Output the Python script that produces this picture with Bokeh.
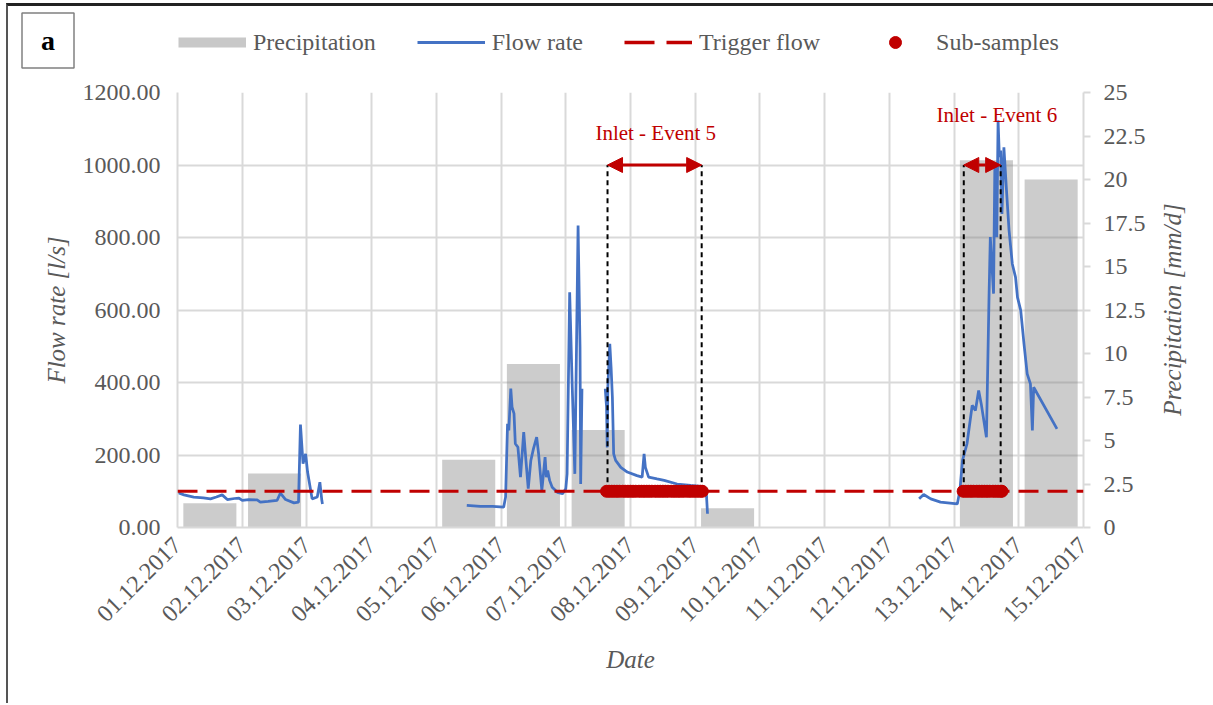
import math

from bokeh.embed import file_html
from bokeh.layouts import column, row
from bokeh.models import (Arrow, FixedTicker, Label, Legend, LegendItem, LinearAxis,
                          NormalHead, NumeralTickFormatter, Range1d, Span)
from bokeh.plotting import figure
from bokeh.resources import INLINE

NAN = float("nan")

# ---------------------------------------------------------------- data
date_labels = ["01.12.2017", "02.12.2017", "03.12.2017", "04.12.2017", "05.12.2017",
               "06.12.2017", "07.12.2017", "08.12.2017", "09.12.2017", "10.12.2017",
               "11.12.2017", "12.12.2017", "13.12.2017", "14.12.2017", "15.12.2017"]

# daily precipitation [mm/d]; day index 0 = 01.12.2017
precip_day = [0, 1, 2, 3, 4, 5, 6, 7, 8, 9, 10, 11, 12, 13]
precip_mm = [1.4, 3.1, 0.0, 0.0, 3.9, 9.4, 5.6, 0.0, 1.1, 0.0, 0.0, 0.0, 21.1, 20.0]

# inlet flow rate; time in days since 01.12.2017 00:00, NaN marks logger gaps
flow_time = [
    0.00, 0.02, 0.10, 0.25, 0.40, 0.51, 0.60, 0.69, 0.77, 0.88, 0.95, 1.00, 1.10, 1.23,
    1.28, 1.40, 1.54, 1.59, 1.67, 1.80, 1.87, 1.90, 1.94, 1.98, 2.01, 2.08, 2.16, 2.20,
    2.23, 2.24,
    3.00,
    4.47, 4.68, 4.87, 5.04, 5.07, 5.10, 5.12, 5.15, 5.17, 5.20, 5.22, 5.26, 5.30, 5.35,
    5.38, 5.42, 5.46, 5.50, 5.55, 5.58, 5.63, 5.68, 5.70, 5.72, 5.75, 5.79, 5.87, 5.95,
    6.00, 6.02, 6.06, 6.10, 6.14, 6.19, 6.22, 6.23, 6.25,
    6.40,
    6.61, 6.63, 6.64, 6.65, 6.68, 6.70, 6.72, 6.74, 6.77, 6.85, 6.95, 7.10, 7.18, 7.21,
    7.23, 7.28, 7.41, 7.52, 7.72, 7.93, 8.13, 8.17, 8.19,
    10.00,
    11.46, 11.53, 11.64, 11.79, 12.05, 12.09, 12.13, 12.20, 12.28, 12.33, 12.38, 12.42,
    12.50, 12.54, 12.56, 12.61, 12.63, 12.66, 12.68, 12.70, 12.72, 12.74, 12.77, 12.81,
    12.85, 12.90, 12.95, 12.98, 13.03, 13.08, 13.13, 13.18, 13.21, 13.23, 13.59,
]
flow_rate = [
    97, 95, 90, 84, 82, 79, 84, 90, 77, 80, 81, 75, 77, 76,
    70, 72, 75, 95, 77, 68, 70, 284, 176, 203, 153, 79, 84, 125,
    75, 65,
    NAN,
    61, 58, 58, 56, 84, 286, 268, 383, 332, 314, 231, 222, 139, 263,
    194, 107, 185, 217, 249, 203, 102, 194, 139, 157, 130, 111, 97, 93,
    107, 148, 649, 387, 148, 833, 497, 120, 383,
    NAN,
    383, 332, 221, 387, 507, 442, 360, 203, 185, 166, 153, 143, 139, 203,
    166, 139, 134, 130, 120, 116, 113, 102, 38,
    NAN,
    79, 91, 79, 70, 65, 102, 185, 231, 337, 323, 378, 341,
    249, 635, 801, 645, 1003, 801, 1123, 1022, 1040, 865, 1049, 930,
    819, 727, 690, 635, 599, 507, 424, 396, 268, 387, 272,
]

TRIGGER_FLOW = 100.0  # l/s

# sub-sample times [days since 01.12.2017]
sub_time_event5 = [6.63, 6.67, 6.71, 6.75, 6.79, 6.83, 6.88, 6.92, 6.96, 7.00, 7.04, 7.08,
                   7.13, 7.17, 7.21, 7.25, 7.29, 7.33, 7.38, 7.42, 7.46, 7.50, 7.54, 7.58,
                   7.63, 7.67, 7.71, 7.75, 7.79, 7.83, 7.88, 7.92, 7.96, 8.00, 8.04, 8.08,
                   8.11]
sub_time_event6 = [12.14, 12.18, 12.22, 12.26, 12.30, 12.35, 12.39, 12.43, 12.47, 12.51,
                   12.55, 12.60, 12.64, 12.68, 12.72, 12.74]

# sampled inlet events: name, start, end [days]
event_names = ["Inlet - Event 5", "Inlet - Event 6"]
event_start = [6.645, 12.15]
event_end = [8.10, 12.72]

flow_ticks = [0, 200, 400, 600, 800, 1000, 1200]
precip_ticks = [0, 2.5, 5, 7.5, 10, 12.5, 15, 17.5, 20, 22.5, 25]

# ---------------------------------------------------------------- style
FONT = "Liberation Serif"
TXT = "#595959"
GRID = "#d9d9d9"
RED = "#c00000"
BLUE = "#4472c4"
BAR_KEY = "#c8c8c8"

W = 1205
HEAD_H = 66
MAIN_H = 631
SIDE_W = 60
MAIN_W = W - SIDE_W

sub_times = sub_time_event5 + sub_time_event6
sub_flow = [TRIGGER_FLOW] * len(sub_times)


def no_frame_align(fig):
    if "frame_align" in fig.properties():
        fig.frame_align = False


# ---------------------------------------------------------------- main chart
p = figure(width=MAIN_W, height=MAIN_H, output_backend="svg", toolbar_location=None,
           x_range=Range1d(0, 14), y_range=Range1d(0, 1200),
           min_border_left=169, min_border_right=MAIN_W - 1075, min_border_top=20,
           min_border_bottom=176)
p.outline_line_color = None
p.extra_y_ranges = {"precip": Range1d(0, 25)}
no_frame_align(p)

x_ticker = FixedTicker(ticks=list(range(len(date_labels))))
y_ticker = FixedTicker(ticks=flow_ticks)

for g, t in ((p.xgrid[0], x_ticker), (p.ygrid[0], y_ticker)):
    g.ticker = t
    g.grid_line_color = GRID
    g.grid_line_width = 2

xax = p.xaxis[0]
xax.ticker = x_ticker
xax.major_label_overrides = {i: lab for i, lab in enumerate(date_labels)}
xax.major_label_orientation = math.pi / 4
xax.axis_label = "Date"

yax = p.yaxis[0]
yax.ticker = y_ticker
yax.formatter = NumeralTickFormatter(format="0.00")
yax.axis_label = "Flow rate [l/s]"

rax = LinearAxis(y_range_name="precip", ticker=FixedTicker(ticks=precip_ticks),
                 major_label_overrides={t: f"{t:g}" for t in precip_ticks})
p.add_layout(rax, "right")

for ax in (xax, yax, rax):
    ax.axis_line_color = GRID
    ax.axis_line_width = 2
    ax.minor_tick_line_color = None
    ax.major_tick_in = 0
    ax.major_tick_out = 0
    ax.major_label_text_font = FONT
    ax.major_label_text_font_size = "24px"
    ax.major_label_text_color = TXT
    ax.axis_label_text_font = FONT
    ax.axis_label_text_font_size = "25px"
    ax.axis_label_text_font_style = "italic"
    ax.axis_label_text_color = TXT

xax.major_label_standoff = 14
xax.axis_label_standoff = 15
yax.major_label_standoff = 17
yax.axis_label_standoff = 10
rax.major_tick_out = 7
rax.major_tick_line_color = GRID
rax.major_tick_line_width = 2
rax.major_label_standoff = 13

bar_x = [d + 0.5 for d in precip_day]
p.vbar(x=bar_x, top=precip_mm, width=0.82, y_range_name="precip",
       fill_color="#7f7f7f", fill_alpha=0.4, line_color=None)

p.line(flow_time, flow_rate, line_color=BLUE, line_width=2.75)

p.add_layout(Span(location=TRIGGER_FLOW, dimension="width", line_color=RED,
                  line_width=3, line_dash="20 9"))

# event limits: dashed verticals, double arrows and captions
p.segment(x0=event_start + event_end, y0=[TRIGGER_FLOW] * 4,
          x1=event_start + event_end, y1=[1000] * 4,
          line_color="black", line_width=2, line_dash="5 4")
for s, e in zip(event_start, event_end):
    p.add_layout(Arrow(x_start=s, y_start=1000, x_end=e, y_end=1000,
                       line_color=RED, line_width=3,
                       start=NormalHead(size=15, fill_color=RED, line_color=RED),
                       end=NormalHead(size=15, fill_color=RED, line_color=RED)))

caption_xy = [(7.39, 1087), (12.66, 1137)]
for name, (cx, cy) in zip(event_names, caption_xy):
    p.add_layout(Label(x=cx, y=cy, text=name, text_font=FONT, text_font_size="21px",
                       text_color=RED, text_align="center", text_baseline="middle"))

p.scatter(sub_times, sub_flow, size=12, fill_color=RED, line_color=RED)

# ---------------------------------------------------------------- header: key + panel letter
head = figure(width=W, height=HEAD_H, output_backend="svg", toolbar_location=None,
              x_range=Range1d(0, 14), y_range=Range1d(0, 1200),
              x_axis_location=None, y_axis_location=None, min_border=0)
head.outline_line_color = None
head.grid.visible = False
no_frame_align(head)

# hidden copies of the series, used only as legend keys
k_precip = head.line(bar_x, precip_mm, line_color=BAR_KEY, line_width=10,
                     line_cap="butt", visible=False)
k_flow = head.line(flow_time, flow_rate, line_color=BLUE, line_width=3, visible=False)
k_trigger = head.line(sub_times, sub_flow, line_color=RED, line_width=3.5,
                      line_dash="30 12", visible=False)
k_sub = head.scatter(sub_times, sub_flow, fill_color=RED, line_color=RED, visible=False)

legend = Legend(items=[LegendItem(label="Precipitation", renderers=[k_precip]),
                       LegendItem(label="Flow rate", renderers=[k_flow]),
                       LegendItem(label="Trigger flow", renderers=[k_trigger]),
                       LegendItem(label="Sub-samples", renderers=[k_sub])],
                orientation="horizontal", location=(170, 15), margin=0, padding=0,
                spacing=41, label_standoff=7, glyph_width=68, glyph_height=30,
                label_height=30, border_line_color=None, background_fill_alpha=0,
                label_text_font=FONT, label_text_font_size="24px",
                label_text_color=TXT)
head.add_layout(legend)

head.add_layout(Label(x=39.5, y=32, x_units="screen", y_units="screen", text="a",
                      text_font=FONT, text_font_style="bold", text_font_size="28px",
                      text_color="black", text_align="center", text_baseline="middle",
                      border_line_color="#808080", border_line_width=1.5,
                      background_fill_color="white", padding=(19, 12)))

# ---------------------------------------------------------------- right strip: precipitation axis title
side = figure(width=SIDE_W, height=MAIN_H, output_backend="svg", toolbar_location=None,
              x_range=Range1d(0, 1), y_range=Range1d(0, 1),
              x_axis_location=None, y_axis_location=None, min_border=0)
side.outline_line_color = None
side.grid.visible = False
no_frame_align(side)
side.add_layout(Label(x=19, y=394, x_units="screen", y_units="screen", angle=90,
                      angle_units="deg", text="Precipitation [mm/d]", text_font=FONT,
                      text_font_size="25px", text_font_style="italic", text_color=TXT,
                      text_align="center", text_baseline="middle"))

page = column(head, row(p, side, spacing=0), spacing=0,
              styles={"margin-top": "3px", "margin-left": "6px",
                      "border-top": "3px solid #222222",
                      "border-left": "2px solid #555555"})

open("out.html", "w").write(file_html(page, INLINE))
